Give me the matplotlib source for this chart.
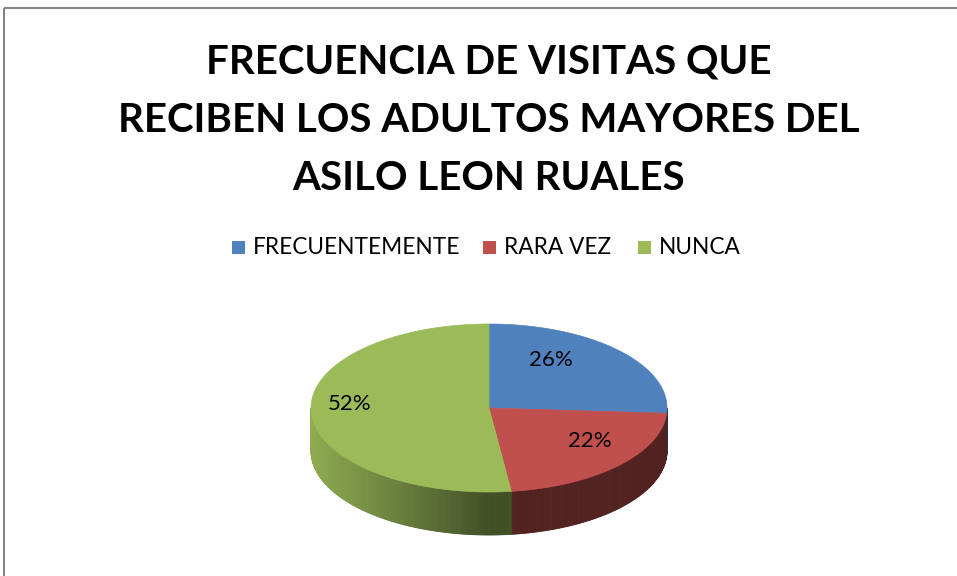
import numpy as np
import matplotlib.pyplot as plt
from matplotlib.patches import Polygon, Rectangle
import matplotlib.colors as mcolors

# Chart data
categories = ["FRECUENTEMENTE", "RARA VEZ", "NUNCA"]
values = [26, 22, 52]
colors = ["#4F81BD", "#C0504D", "#9BBB59"]
title_lines = ["FRECUENCIA DE VISITAS QUE",
               "RECIBEN LOS ADULTOS MAYORES DEL",
               "ASILO LEON RUALES"]

plt.rcParams['font.family'] = ['Lato', 'DejaVu Sans']

W, H = 957, 576
fig = plt.figure(figsize=(W / 100, H / 100), dpi=100)
ax = fig.add_axes([0, 0, 1, 1])
ax.set_xlim(0, W)
ax.set_ylim(H, 0)
ax.axis("off")

# outer chart border
ax.add_patch(Rectangle((4, 8), W + 10, H + 10, fill=False, edgecolor="#868686", lw=1.5))

# title
for i, line in enumerate(title_lines):
    ax.text(489, 62 + i * 58, line, ha="center", va="center",
            fontsize=29, fontweight="bold", color="black")

# legend
leg_x = [232, 483, 638]
for x, name, c in zip(leg_x, categories, colors):
    ax.add_patch(Rectangle((x, 241), 13, 13, facecolor=c, edgecolor="none"))
    ax.text(x + 21, 248, name, ha="left", va="center", fontsize=16.3, color="black")

# 3D pie geometry (pixel space)
cx, cy, rx, ry, depth = 489, 408, 178, 84, 43


def pt(theta):
    # theta in degrees, clockwise from 12 o'clock
    t = np.radians(theta)
    return cx + rx * np.sin(t), cy - ry * np.cos(t)


fracs = np.array(values) / np.sum(values)
bounds = np.concatenate([[0], np.cumsum(fracs) * 360])

# side walls (front half only: 90..270 deg)
for k in range(len(values)):
    a0, a1 = max(bounds[k], 90), min(bounds[k + 1], 270)
    if a1 <= a0:
        continue
    angs = np.linspace(a0, a1, int((a1 - a0) * 2) + 2)
    base = np.array(mcolors.to_rgb(colors[k]))
    for t0, t1 in zip(angs[:-1], angs[1:]):
        tm = np.radians((t0 + t1) / 2)
        f = 0.42 + 0.5 * max(0.0, -np.sin(tm))
        x0, y0 = pt(t0)
        x1, y1 = pt(t1)
        quad = [(x0, y0), (x1, y1), (x1, y1 + depth), (x0, y0 + depth)]
        ax.add_patch(Polygon(quad, closed=True, facecolor=base * f,
                             edgecolor=base * f, lw=0.6))

# top faces
for k in range(len(values)):
    angs = np.linspace(bounds[k], bounds[k + 1], 200)
    xs, ys = pt(angs)
    poly = [(cx, cy)] + list(zip(xs, ys))
    ax.add_patch(Polygon(poly, closed=True, facecolor=colors[k],
                         edgecolor=colors[k], lw=0.5))

# data labels
label_pos = [(551, 360), (590, 441), (350, 404)]
for (x, y), v in zip(label_pos, values):
    ax.text(x, y, f"{v}%", ha="center", va="center", fontsize=16, color="black")

fig.savefig("out.png", dpi=100)
